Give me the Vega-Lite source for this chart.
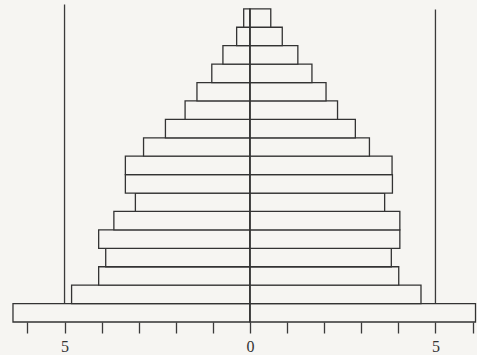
{
  "autosize": {"type": "none"},
  "padding": {"left": 0, "top": 0, "right": 0, "bottom": 33},
  "width": 477,
  "height": 322,
  "background": "#f6f5f2",
  "config": {
    "view": {"stroke": "transparent"},
    "axisX": {
      "values": [-6, -5, -4, -3, -2, -1, 0, 1, 2, 3, 4, 5, 6],
      "tickCount": 13,
      "domain": false,
      "grid": false,
      "tickSize": 11,
      "tickWidth": 1.3,
      "tickColor": "#3a3a3a",
      "labelOverlap": false,
      "labelFlush": false,
      "labelBound": false,
      "labelFont": "Liberation Serif",
      "labelFontSize": 16,
      "labelColor": "#333333",
      "labelPadding": 5
    }
  },
  "datasets": {
    "bars": [
      {"age_from": 0, "age_to": 5, "side": "L", "pct": -6.39, "base": 0},
      {"age_from": 0, "age_to": 5, "side": "R", "pct": 6.08, "base": 0},
      {"age_from": 5, "age_to": 10, "side": "L", "pct": -4.81, "base": 0},
      {"age_from": 5, "age_to": 10, "side": "R", "pct": 4.61, "base": 0},
      {"age_from": 10, "age_to": 15, "side": "L", "pct": -4.08, "base": 0},
      {"age_from": 10, "age_to": 15, "side": "R", "pct": 4.01, "base": 0},
      {"age_from": 15, "age_to": 20, "side": "L", "pct": -3.89, "base": 0},
      {"age_from": 15, "age_to": 20, "side": "R", "pct": 3.81, "base": 0},
      {"age_from": 20, "age_to": 25, "side": "L", "pct": -4.08, "base": 0},
      {"age_from": 20, "age_to": 25, "side": "R", "pct": 4.04, "base": 0},
      {"age_from": 25, "age_to": 30, "side": "L", "pct": -3.67, "base": 0},
      {"age_from": 25, "age_to": 30, "side": "R", "pct": 4.04, "base": 0},
      {"age_from": 30, "age_to": 35, "side": "L", "pct": -3.09, "base": 0},
      {"age_from": 30, "age_to": 35, "side": "R", "pct": 3.63, "base": 0},
      {"age_from": 35, "age_to": 40, "side": "L", "pct": -3.36, "base": 0},
      {"age_from": 35, "age_to": 40, "side": "R", "pct": 3.84, "base": 0},
      {"age_from": 40, "age_to": 45, "side": "L", "pct": -3.36, "base": 0},
      {"age_from": 40, "age_to": 45, "side": "R", "pct": 3.83, "base": 0},
      {"age_from": 45, "age_to": 50, "side": "L", "pct": -2.87, "base": 0},
      {"age_from": 45, "age_to": 50, "side": "R", "pct": 3.22, "base": 0},
      {"age_from": 50, "age_to": 55, "side": "L", "pct": -2.28, "base": 0},
      {"age_from": 50, "age_to": 55, "side": "R", "pct": 2.84, "base": 0},
      {"age_from": 55, "age_to": 60, "side": "L", "pct": -1.75, "base": 0},
      {"age_from": 55, "age_to": 60, "side": "R", "pct": 2.36, "base": 0},
      {"age_from": 60, "age_to": 65, "side": "L", "pct": -1.43, "base": 0},
      {"age_from": 60, "age_to": 65, "side": "R", "pct": 2.05, "base": 0},
      {"age_from": 65, "age_to": 70, "side": "L", "pct": -1.03, "base": 0},
      {"age_from": 65, "age_to": 70, "side": "R", "pct": 1.67, "base": 0},
      {"age_from": 70, "age_to": 75, "side": "L", "pct": -0.73, "base": 0},
      {"age_from": 70, "age_to": 75, "side": "R", "pct": 1.29, "base": 0},
      {"age_from": 75, "age_to": 80, "side": "L", "pct": -0.36, "base": 0},
      {"age_from": 75, "age_to": 80, "side": "R", "pct": 0.87, "base": 0},
      {"age_from": 80, "age_to": 85, "side": "L", "pct": -0.17, "base": 0},
      {"age_from": 80, "age_to": 85, "side": "R", "pct": 0.56, "base": 0}
    ],
    "guides": [
      {"pos": -5, "top": 86.2, "bottom": 0},
      {"pos": 5, "top": 84.8, "bottom": 0}
    ],
    "centre": [
      {"pos": 0, "top": 85, "bottom": 0}
    ]
  },
  "layer": [
    {
      "data": {"name": "guides"},
      "mark": {"type": "rule", "color": "#3a3a3a", "strokeWidth": 1.3},
      "encoding": {
        "x": {
          "field": "pos",
          "type": "quantitative",
          "scale": {"domain": [-6.74, 6.12], "nice": false, "zero": false},
          "axis": {
            "values": [-6, -5, -4, -3, -2, -1, 0, 1, 2, 3, 4, 5, 6],
            "tickCount": 13,
            "labelExpr": "datum.value == 0 ? '0' : (abs(datum.value) == 5 ? '5' : '')",
            "title": null
          }
        },
        "y": {"field": "top", "type": "quantitative", "scale": {"domain": [0, 87.4], "nice": false}, "axis": null},
        "y2": {"field": "bottom"}
      }
    },
    {
      "data": {"name": "bars"},
      "mark": {"type": "bar", "fill": "#f6f5f2", "stroke": "#333333", "strokeWidth": 1.3},
      "encoding": {
        "x": {
          "field": "pct",
          "type": "quantitative",
          "axis": {
            "values": [-6, -5, -4, -3, -2, -1, 0, 1, 2, 3, 4, 5, 6],
            "tickCount": 13,
            "labelExpr": "datum.value == 0 ? '0' : (abs(datum.value) == 5 ? '5' : '')",
            "title": null
          }
        },
        "x2": {"field": "base"},
        "y": {"field": "age_from", "type": "quantitative"},
        "y2": {"field": "age_to"}
      }
    },
    {
      "data": {"name": "centre"},
      "mark": {"type": "rule", "color": "#333333", "strokeWidth": 1.4},
      "encoding": {
        "x": {"field": "pos", "type": "quantitative"},
        "y": {"field": "top", "type": "quantitative"},
        "y2": {"field": "bottom"}
      }
    }
  ]
}
